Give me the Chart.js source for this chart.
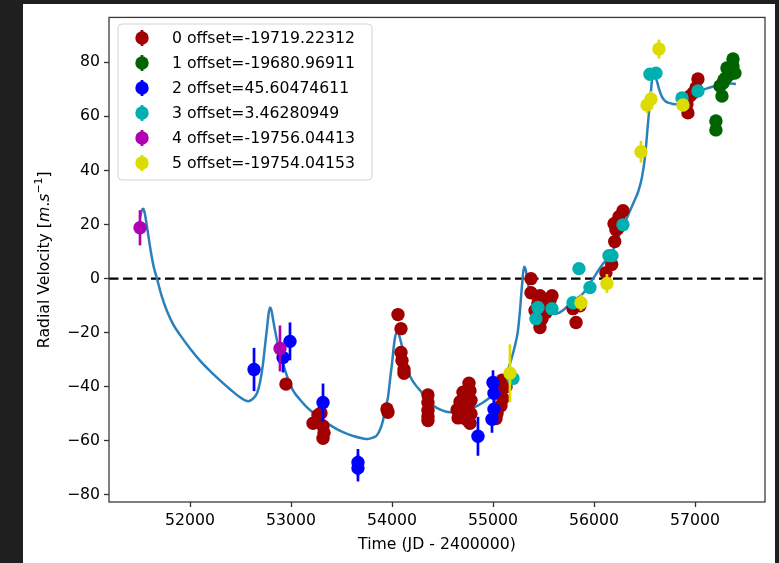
<!DOCTYPE html>
<html>
<head>
<meta charset="utf-8">
<script src="https://cdn.jsdelivr.net/npm/chart.js@4.4.1/dist/chart.umd.min.js"></script>
<style>
  html, body { margin: 0; padding: 0; background: #1f1f1f; width: 779px; height: 563px; overflow: hidden; }
  #wrap { position: absolute; left: 23px; top: 4px; width: 752px; height: 559px; background: #ffffff; }
  canvas { display: block; }
</style>
</head>
<body>
<div id="wrap"><canvas id="c" width="752" height="559"></canvas></div>
<script>
// ---------------- DATA ----------------
const seriesLabels = [
  '0 offset=-19719.22312',
  '1 offset=-19680.96911',
  '2 offset=45.60474611',
  '3 offset=3.46280949',
  '4 offset=-19756.04413',
  '5 offset=-19754.04153'
];
const seriesColors = ['#a00000', '#006400', '#0000ff', '#00b0b0', '#b000b0', '#dcdc00'];

// series 0
const s0_t = [52950, 53218, 53267, 53297, 53317, 53327, 53317, 53960, 53950,
  54059, 54089, 54089, 54099, 54119, 54119,
  54356, 54356, 54356, 54356, 54356,
  54762, 54772, 54703, 54742, 54673, 54752, 54644, 54703, 54782, 54654, 54733, 54772, 54713, 54782,
  55089, 55109, 55069, 55099, 55079, 55040, 55030, 55129,
  55376, 55376, 55465, 55584, 55495, 55564, 55445, 55416, 55455, 55505, 55485, 55465, 55525,
  55792, 55822, 55861,
  56118, 56175, 56205, 56198, 56217, 56247, 56287, 56237,
  57029, 57009, 56950, 56920, 56930, 56980];
const s0_rv = [-39, -53.5, -50.5, -49.7, -54.5, -57, -59, -49.4, -48.2,
  -13.3, -18.5, -27.3, -30.3, -33.6, -35,
  -43, -45.8, -48.7, -51, -52.5,
  -38.7, -41.5, -42, -44, -45.5, -47, -48.5, -49, -50, -51.5, -52, -53.5, -50.5, -45,
  -37.6, -39.5, -42, -44.3, -47, -49.8, -51.7, -40,
  0, -5.2, -6.3, -6.3, -8, -8.1, -9.2, -11.8, -13, -11, -14.8, -18.1, -12.5,
  -11.1, -16.2, -10,
  2.2, 5.2, 13.7, 20.3, 18.1, 22.9, 25.1, 18.5,
  73.8, 70.5, 67.5, 64.6, 61.3, 68.6];
const s0_err = s0_t.map(() => 1.2);

// series 1
const s1_t = [57207, 57207, 57267, 57247, 57277, 57306, 57316, 57346, 57376, 57376, 57395, 57286];
const s1_rv = [58.3, 55, 67.5, 71.2, 72.3, 74.2, 77.9, 75.6, 81.2, 78.6, 76, 73.5];
const s1_err = [1.2, 1.2, 1.2, 1.2, 1.2, 1.2, 1.2, 1.2, 1.2, 1.2, 1.2, 1.2];

// series 2
const s2_t = [52634, 52921, 52990, 53317, 53663, 53663, 54851, 55000, 55010, 55010, 54990];
const s2_rv = [-33.6, -29.2, -23.2, -45.8, -68, -70, -58.3, -38.4, -42.4, -48.3, -52];
const s2_err = [8, 5.5, 7, 7, 5, 5, 7.2, 4.5, 4.5, 4.5, 5];

// series 3
const s3_t = [55198, 55445, 55425, 55584, 55792, 55851, 55960, 56148, 56178, 56287, 56554, 56613, 56871, 57029];
const s3_rv = [-36.9, -10.7, -14.8, -11.1, -8.9, 3.7, -3.3, 8.5, 8.5, 19.9, 75.6, 76, 66.8, 69.4];
const s3_err = [1.5, 1.5, 1.5, 1.5, 1.5, 1.5, 1.5, 1.5, 1.5, 1.5, 1.5, 1.5, 1.5, 1.5];

// series 4
const s4_t = [51505, 52891];
const s4_rv = [18.8, -25.8];
const s4_err = [6.5, 8.5];

// series 5
const s5_t = [55168, 55871, 56128, 56465, 56525, 56564, 56643, 56881];
const s5_rv = [-35, -8.9, -1.8, 46.9, 64.2, 66.4, 84.9, 64.2];
const s5_err = [10.7, 3, 3.5, 4, 3, 3, 3.5, 2];

// model curve
const model_t = [51505, 51520, 51535, 51550, 51575, 51610, 51640, 51673, 51720, 51772, 51835, 51901,
  52000, 52099, 52200, 52297, 52400, 52495, 52545, 52580, 52620, 52663, 52695, 52723, 52745, 52762,
  52778, 52792, 52805, 52822, 52842, 52880, 52921, 52970, 53020, 53090, 53158, 53240, 53317, 53415,
  53515, 53615, 53713, 53760, 53810, 53851, 53885, 53911, 53940, 53960, 53985, 54000, 54018, 54030,
  54045, 54059, 54075, 54090, 54109, 54140, 54178, 54230, 54277, 54340, 54406, 54490, 54574, 54660,
  54742, 54820, 54901, 54990, 55069, 55120, 55168, 55218, 55247, 55267, 55287, 55307, 55322, 55337,
  55366, 55400, 55435, 55534, 55590, 55633, 55700, 55762, 55830, 55891, 55990, 56089, 56158, 56200,
  56257, 56310, 56356, 56400, 56440, 56475, 56505, 56534, 56564, 56584, 56600, 56623, 56645, 56673, 56710,
  56752, 56800, 56851, 56900, 56950, 57000, 57049, 57148, 57247, 57346, 57405];
const model_rv = [22.5, 25, 25.8, 24.5, 19, 10.5, 4.5, 0, -6.5, -12, -17, -20.8,
  -25.8, -30.3, -34.2, -37.6, -41, -43.9, -45, -45.3, -44.5, -42.4, -38, -31.4, -24, -18.5,
  -13, -10.7, -11.5, -15, -19.2, -26, -31.4, -37, -41.3, -44.8, -47.6, -50.2, -52.4, -54.8,
  -56.8, -58.2, -59.1, -59.3, -58.8, -57.9, -55.5, -52.4, -47, -43.9, -36, -31.4, -25, -21.8,
  -20, -19.9, -21.5, -23.7, -26.6, -31.5, -36, -39.2, -41.3, -44.5, -46.9, -48.6, -49.4, -49.4,
  -48.7, -47.5, -45.8, -43.3, -40.2, -36.5, -31.4, -24.7, -19.2, -11.8, -2.6, 4.4, 3.5, 0.4,
  -5.5, -7.8, -9.2, -12.5, -13, -12.9, -11.5, -9.2, -7.3, -5.5, 0, 5.5, 8.5, 11.5,
  16.6, 21, 25.1, 28.8, 32.5, 37.5, 45, 57.2, 69.4, 76, 75.5, 73, 70, 67.2, 65.5,
  64.9, 64.5, 64.6, 65.5, 66.8, 68.2, 69.4, 70.7, 71.7, 72.2, 72];

const xTicks = [52000, 53000, 54000, 55000, 56000, 57000];
const yTicks = [-80, -60, -40, -20, 0, 20, 40, 60, 80];
const xLimits = [51198, 57693];
const yLimits = [-82.6, 96.6];
const xTitle = 'Time (JD - 2400000)';

// ---------------- BUILD ----------------
const FONT = '"DejaVu Sans", sans-serif';
const FS = 15.7;
const R = 6.7;
const seriesT = [s0_t, s1_t, s2_t, s3_t, s4_t, s5_t];
const seriesRV = [s0_rv, s1_rv, s2_rv, s3_rv, s4_rv, s5_rv];
const seriesErr = [s0_err, s1_err, s2_err, s3_err, s4_err, s5_err];

const datasets = [];
for (let i = 0; i < 6; i++) {
  datasets.push({
    label: seriesLabels[i],
    data: seriesT[i].map((t, k) => ({ x: t, y: seriesRV[i][k] })),
    errs: seriesErr[i],
    backgroundColor: seriesColors[i],
    borderColor: seriesColors[i],
    pointRadius: R,
    pointBorderWidth: 0,
    pointStyle: 'circle',
    showLine: false,
    order: 5 - i
  });
}
datasets.push({
  label: 'model',
  data: model_t.map((t, k) => ({ x: t, y: model_rv[k] })),
  borderColor: '#2a80bb',
  borderWidth: 2.5,
  pointRadius: 0,
  showLine: true,
  cubicInterpolationMode: 'monotone',
  fill: false,
  order: 10
});

const minus = s => String(s).replace('-', '\u2212');

const errPlugin = {
  id: 'errbars',
  beforeDatasetDraw(chart, args) {
    const ds = chart.data.datasets[args.index];
    if (!ds.errs) return;
    const ctx = chart.ctx, xs = chart.scales.x, ys = chart.scales.y;
    ctx.save();
    ctx.strokeStyle = ds.backgroundColor;
    ctx.lineWidth = 2.7;
    ds.data.forEach((p, k) => {
      const e = ds.errs[k];
      const px = xs.getPixelForValue(p.x);
      ctx.beginPath();
      ctx.moveTo(px, ys.getPixelForValue(p.y - e));
      ctx.lineTo(px, ys.getPixelForValue(p.y + e));
      ctx.stroke();
    });
    ctx.restore();
  }
};

const decoPlugin = {
  id: 'deco',
  beforeDatasetsDraw(chart) {
    const ctx = chart.ctx, a = chart.chartArea, ys = chart.scales.y;
    const y0 = ys.getPixelForValue(0);
    ctx.save();
    ctx.strokeStyle = '#000';
    ctx.lineWidth = 2.2;
    ctx.setLineDash([9.5, 4.5]);
    ctx.beginPath();
    ctx.moveTo(a.left, y0);
    ctx.lineTo(a.right, y0);
    ctx.stroke();
    ctx.restore();
  },
  afterDraw(chart) {
    const ctx = chart.ctx, a = chart.chartArea;
    ctx.save();
    // frame
    ctx.strokeStyle = '#3a3a3a';
    ctx.lineWidth = 1.3;
    ctx.strokeRect(a.left, a.top, a.right - a.left, a.bottom - a.top);

    // x title
    ctx.fillStyle = '#000';
    ctx.font = FS + 'px ' + FONT;
    ctx.textAlign = 'center';
    ctx.textBaseline = 'middle';
    ctx.fillText(xTitle, (a.left + a.right) / 2, 541);

    // y title with math parts
    const parts = [
      { t: 'Radial Velocity [', f: FS + 'px ' + FONT, dy: 0 },
      { t: 'm', f: 'italic ' + FS + 'px ' + FONT, dy: 0 },
      { t: '.', f: FS + 'px ' + FONT, dy: 0 },
      { t: 's', f: 'italic ' + FS + 'px ' + FONT, dy: 0 },
      { t: '\u22121', f: (FS * 0.7) + 'px ' + FONT, dy: -FS * 0.38 },
      { t: ']', f: FS + 'px ' + FONT, dy: 0 }
    ];
    let total = 0;
    parts.forEach(p => { ctx.font = p.f; p.w = ctx.measureText(p.t).width; total += p.w; });
    ctx.translate(22, (a.top + a.bottom) / 2);
    ctx.rotate(-Math.PI / 2);
    ctx.textAlign = 'left';
    ctx.textBaseline = 'middle';
    let x = -total / 2;
    parts.forEach(p => { ctx.font = p.f; ctx.fillText(p.t, x, p.dy); x += p.w; });
    ctx.setTransform(1, 0, 0, 1, 0, 0);

    // legend
    const lx = 95, ly = 20, lw = 254, lh = 156;
    ctx.beginPath();
    ctx.roundRect(lx, ly, lw, lh, 4);
    ctx.fillStyle = 'rgba(255,255,255,0.8)';
    ctx.fill();
    ctx.strokeStyle = '#d3d3d3';
    ctx.lineWidth = 1;
    ctx.stroke();
    ctx.font = FS + 'px ' + FONT;
    ctx.textAlign = 'left';
    ctx.textBaseline = 'middle';
    for (let i = 0; i < 6; i++) {
      const ry = 34 + i * 25;
      ctx.strokeStyle = seriesColors[i];
      ctx.lineWidth = 2.7;
      ctx.beginPath();
      ctx.moveTo(119, ry - 8);
      ctx.lineTo(119, ry + 8);
      ctx.stroke();
      ctx.fillStyle = seriesColors[i];
      ctx.beginPath();
      ctx.arc(119, ry, R, 0, Math.PI * 2);
      ctx.fill();
      ctx.fillStyle = '#000';
      ctx.fillText(seriesLabels[i], 149, ry + 1);
    }
    ctx.restore();
  }
};

new Chart(document.getElementById('c'), {
  type: 'scatter',
  data: { datasets },
  options: {
    responsive: false,
    animation: false,
    devicePixelRatio: 1,
    layout: { padding: { left: 0, top: 12, right: 10, bottom: 0 } },
    plugins: { legend: { display: false }, tooltip: { enabled: false } },
    scales: {
      x: {
        type: 'linear',
        min: xLimits[0], max: xLimits[1],
        afterBuildTicks: s => { s.ticks = xTicks.map(v => ({ value: v })); },
        afterFit: s => { s.height = 61; },
        grid: { display: true, drawOnChartArea: false, drawTicks: true, tickLength: 5, tickColor: '#333', tickWidth: 1.3 },
        border: { display: false },
        ticks: { color: '#000', font: { family: FONT, size: FS }, padding: 5, maxRotation: 0, callback: v => minus(v) }
      },
      y: {
        type: 'linear',
        min: yLimits[0], max: yLimits[1],
        afterBuildTicks: s => { s.ticks = yTicks.map(v => ({ value: v })); },
        afterFit: s => { s.width = 86; },
        grid: { display: true, drawOnChartArea: false, drawTicks: true, tickLength: 5, tickColor: '#333', tickWidth: 1.3 },
        border: { display: false },
        ticks: { color: '#000', font: { family: FONT, size: FS }, padding: 4, callback: v => minus(v) }
      }
    }
  },
  plugins: [errPlugin, decoPlugin]
});
</script>
</body>
</html>
